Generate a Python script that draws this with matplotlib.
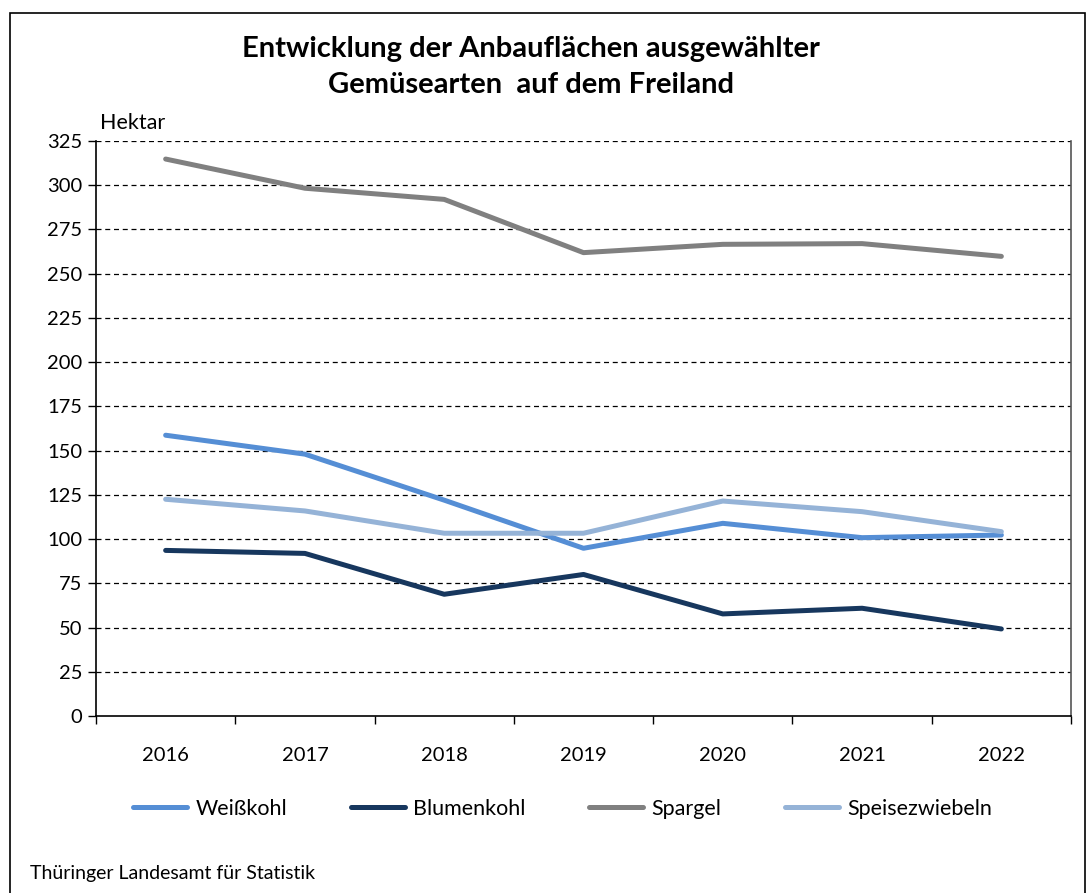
import matplotlib.pyplot as plt
from matplotlib.patches import Rectangle

plt.rcParams['font.family'] = ['Lato', 'DejaVu Sans']

years = ['2016', '2017', '2018', '2019', '2020', '2021', '2022']
weisskohl = [158.7, 148.0, 122.0, 94.8, 108.9, 100.8, 102.3]
blumenkohl = [93.6, 91.9, 68.8, 80.0, 57.7, 60.9, 49.2]
spargel = [314.8, 298.3, 292.0, 261.9, 266.6, 267.0, 259.8]
speisezwiebeln = [122.5, 115.9, 103.3, 103.3, 121.5, 115.5, 104.2]

colors = {'Weißkohl': '#558ed5',
          'Blumenkohl': '#17375e',
          'Spargel': '#808080',
          'Speisezwiebeln': '#95b3d7'}

fig = plt.figure(figsize=(10.91, 8.93), dpi=100)
ax = fig.add_axes([96 / 1091, 1 - 716 / 893, 975 / 1091, 575 / 893])

# outer frame
fig.patches.append(Rectangle((10 / 1091, -0.01), 1075 / 1091, 1 - 13 / 893 + 0.01,
                             transform=fig.transFigure, fill=False,
                             edgecolor='black', linewidth=1.2))

x = range(len(years))
series = [('Weißkohl', weisskohl), ('Blumenkohl', blumenkohl),
          ('Spargel', spargel), ('Speisezwiebeln', speisezwiebeln)]
for name, vals in series:
    ax.plot(x, vals, color=colors[name], linewidth=3.6, label=name,
            solid_capstyle='round', solid_joinstyle='round', zorder=3)

ax.set_xlim(-0.5, len(years) - 0.5)
ax.set_ylim(0, 325)
ax.set_yticks(range(0, 326, 25))
ax.set_xticks(x)
ax.set_xticklabels(years)
ax.set_xticks([i - 0.5 for i in range(len(years) + 1)], minor=True)
ax.tick_params(axis='x', which='major', length=0, pad=22, labelsize=14.5)
ax.tick_params(axis='x', which='minor', length=6, width=1, color='black')
ax.tick_params(axis='y', length=6, width=1, labelsize=14.5, pad=4)

for v in range(25, 326, 25):
    ax.axhline(v, color='black', linewidth=0.9, linestyle=(0, (4, 3)), zorder=1)

ax.spines['top'].set_visible(False)
ax.spines['right'].set_color('#555555')
ax.spines['right'].set_linewidth(1.2)
ax.spines['left'].set_linewidth(1.2)
ax.spines['bottom'].set_linewidth(1.2)

fig.text(0.487, 1 - 67 / 893, 'Entwicklung der Anbauflächen ausgewählter\nGemüsearten  auf dem Freiland',
         ha='center', va='center', fontsize=21, fontweight='bold', linespacing=1.5)
fig.text(100 / 1091, 1 - 123 / 893, 'Hektar', ha='left', va='center', fontsize=15.5)
fig.text(30 / 1091, 1 - 873 / 893, 'Thüringer Landesamt für Statistik', ha='left', va='center', fontsize=14)

fig.legend(loc='center', bbox_to_anchor=(0.516, 1 - 809 / 893), ncol=4, frameon=False,
           fontsize=15.5, handlelength=2.5, columnspacing=2.95, handletextpad=0.4)

fig.savefig('out.png', dpi=100)
